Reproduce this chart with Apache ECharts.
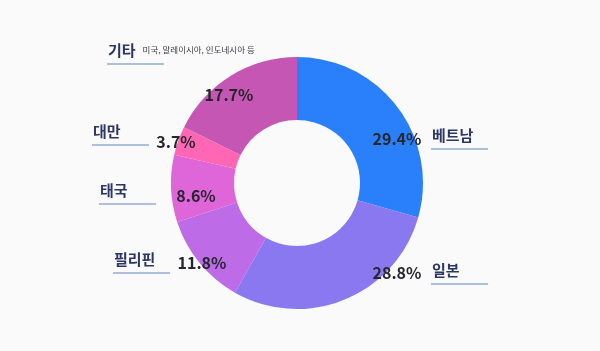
<!DOCTYPE html>
<html>
<head>
<meta charset="utf-8">
<script src="https://cdn.jsdelivr.net/npm/echarts@6/dist/echarts.min.js"></script>
<style>
  html, body { margin: 0; padding: 0; background: #fafafa; }
  #app { width: 600px; height: 351px; }
</style>
</head>
<body>
<div id="app"></div>
<script>
// data
const names = ['베트남', '일본', '필리핀', '태국', '대만', '기타'];
const shares = [29.4, 28.8, 11.8, 8.6, 3.7, 17.7];
const colors = ['#2a80fa', '#8a78f0', '#bd6be6', '#de66d9', '#ff66b3', '#c556b3'];
const etcNote = '미국, 말레이시아, 인도네시아 등';

// label placement (style only)
const pctPos = [[397, 139], [397, 273], [202, 263], [196, 196], [176, 142], [229, 95]];
const namePos = [[431, 125], [431, 260], [113, 249], [99, 180], [92, 121], [107, 40]];

const myChart = echarts.init(document.getElementById('app'));
const FONT = '"Noto Sans CJK KR", "Noto Sans", sans-serif';

const pieData = names.map((n, i) => ({
  name: n,
  value: shares[i],
  itemStyle: { color: colors[i] }
}));

const option = {
  backgroundColor: '#fafafa',
  animation: false,
  series: [
    {
      type: 'pie',
      center: [297, 183],
      radius: [63, 126],
      startAngle: 90,
      clockwise: true,
      avoidLabelOverlap: false,
      data: pieData,
      label: {
        show: true,
        position: 'inside',
        formatter: p => p.value.toFixed(1) + '%',
        color: '#26262e',
        fontSize: 16,
        fontWeight: 'bold',
        fontFamily: FONT
      },
      labelLine: { show: false },
      labelLayout: p => ({
        x: pctPos[p.dataIndex][0],
        y: pctPos[p.dataIndex][1],
        align: 'center',
        verticalAlign: 'middle'
      })
    },
    {
      type: 'pie',
      silent: true,
      center: [297, 183],
      radius: [63, 126],
      startAngle: 90,
      avoidLabelOverlap: false,
      data: names.map((n, i) => ({ name: n, value: shares[i] })),
      itemStyle: { color: 'rgba(0,0,0,0)' },
      label: {
        show: true,
        position: 'inside',
        formatter: p => p.name === '기타'
          ? `{n|${p.name}}{s|${etcNote}}\n{u|}`
          : `{n|${p.name}}\n{u|}`,
        rich: {
          n: { fontSize: 15, fontWeight: 'bold', color: '#2d3565', lineHeight: 20, fontFamily: FONT, padding: [0, 0, 0, 1] },
          s: { fontSize: 8.5, color: '#3a3a44', lineHeight: 20, fontFamily: FONT, padding: [0, 0, 0, 7] },
          u: { width: 57, height: 1.5, lineHeight: 8, backgroundColor: '#94aad4' }
        }
      },
      labelLine: { show: false },
      labelLayout: p => ({
        x: namePos[p.dataIndex][0],
        y: namePos[p.dataIndex][1],
        align: 'left',
        verticalAlign: 'top'
      })
    }
  ]
};

myChart.setOption(option);
</script>
</body>
</html>
